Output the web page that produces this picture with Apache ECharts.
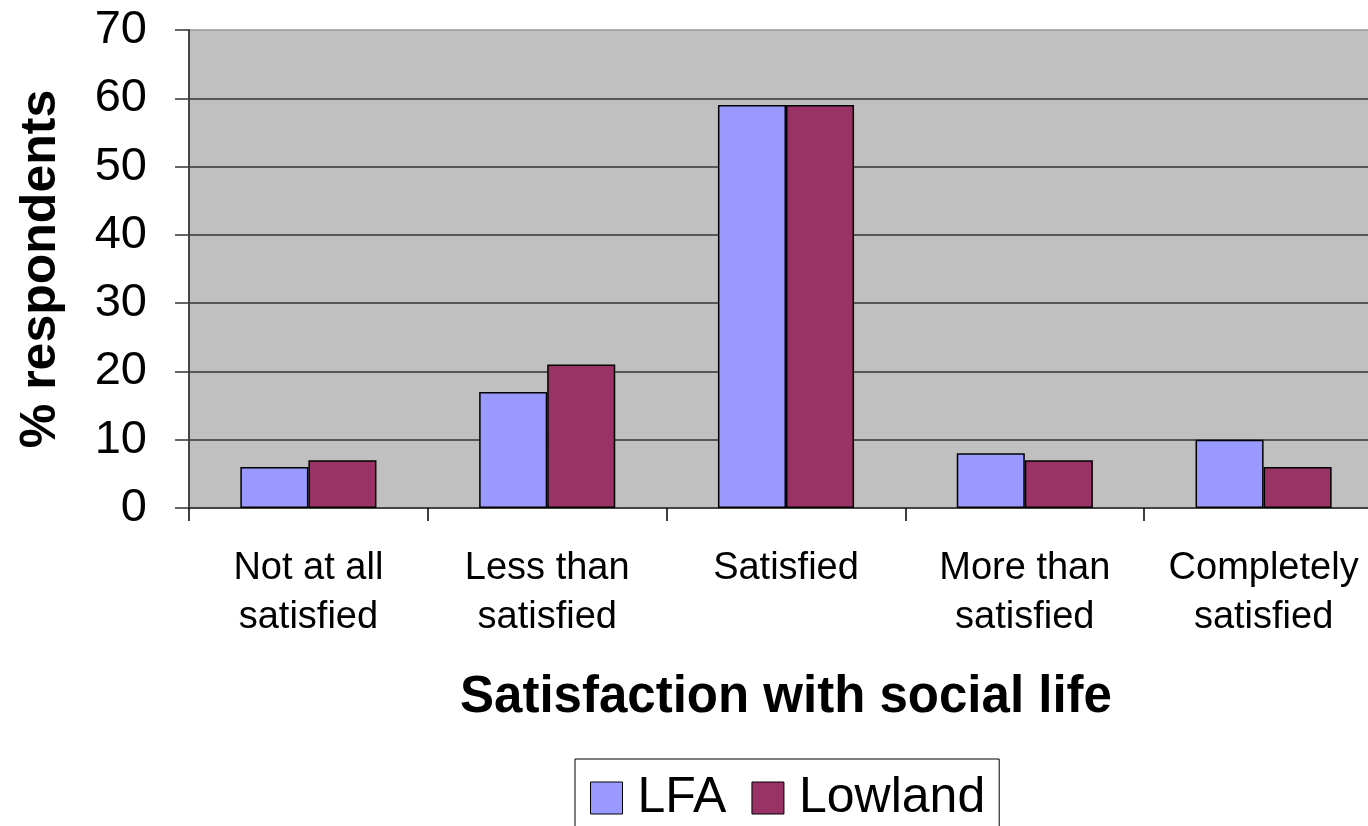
<!DOCTYPE html>
<html>
<head>
<meta charset="utf-8">
<script src="https://cdn.jsdelivr.net/npm/echarts@6/dist/echarts.min.js"></script>
<style>
html,body{margin:0;padding:0;background:#fff;overflow:hidden;width:1368px;height:826px;}
#chart{width:1400px;height:826px;}
</style>
</head>
<body>
<div id="chart"></div>
<script>
const categories = ['Not at all\nsatisfied', 'Less than\nsatisfied', 'Satisfied', 'More than\nsatisfied', 'Completely\nsatisfied'];
const lfaValues = [6, 17, 59, 8, 10];
const lowlandValues = [7, 21, 59, 7, 6];
const yTicks = { min: 0, max: 70, interval: 10 };
const seriesNames = ['LFA', 'Lowland'];

const FONT = '"Liberation Sans", Arial, sans-serif';
const chart = echarts.init(document.getElementById('chart'), null, { renderer: 'canvas' });
chart.setOption({
  animation: false,
  backgroundColor: '#ffffff',
  textStyle: { fontFamily: FONT },
  grid: {
    show: true,
    left: 189, top: 30, bottom: 318, width: 1194,
    backgroundColor: '#c0c0c0',
    borderWidth: 0,
    containLabel: false
  },
  legend: {
    data: seriesNames,
    left: 575, top: 759,
    orient: 'horizontal',
    padding: [14, 14, 14, 15],
    borderColor: '#000',
    borderWidth: 1,
    itemWidth: 32, itemHeight: 32,
    itemGap: 25,
    icon: 'rect',
    itemStyle: { borderColor: '#000', borderWidth: 1 },
    textStyle: { fontFamily: FONT, fontSize: 50, color: '#000', lineHeight: 48, padding: [0, 0, 0, 10] }
  },
  xAxis: {
    type: 'category',
    data: categories,
    boundaryGap: true,
    name: 'Satisfaction with social life',
    nameLocation: 'middle',
    nameGap: 164,
    nameTextStyle: { fontFamily: FONT, fontSize: 51, fontWeight: 'bold', color: '#000' },
    axisLine: { show: true, lineStyle: { color: '#444', width: 2 } },
    axisTick: { show: true, length: 13, alignWithLabel: false, lineStyle: { color: '#000', width: 1.5 } },
    axisLabel: { interval: 0, fontFamily: FONT, fontSize: 38, lineHeight: 49, color: '#000', margin: 36 },
    splitLine: { show: false }
  },
  yAxis: {
    type: 'value',
    min: yTicks.min, max: yTicks.max, interval: yTicks.interval,
    name: '% respondents',
    nameLocation: 'middle',
    nameRotate: 90,
    nameGap: 123,
    nameTextStyle: { fontFamily: FONT, fontSize: 50, fontWeight: 'bold', color: '#000' },
    axisLine: { show: true, lineStyle: { color: '#444', width: 2 } },
    axisTick: { show: true, length: 14, lineStyle: { color: '#333', width: 1.5 } },
    axisLabel: { fontFamily: FONT, fontSize: 47, color: '#000', margin: 42 },
    splitLine: { show: true, lineStyle: { color: ['#444', '#333', '#333', '#333', '#333', '#333', '#333', '#999'], width: 1.5 } }
  },
  series: [
    {
      name: seriesNames[0], type: 'bar', data: lfaValues,
      barGap: '0%', barCategoryGap: '43%',
      itemStyle: { color: '#9999ff', borderColor: '#000', borderWidth: 1.5 }
    },
    {
      name: seriesNames[1], type: 'bar', data: lowlandValues,
      barGap: '0%', barCategoryGap: '43%',
      itemStyle: { color: '#993366', borderColor: '#000', borderWidth: 1.5 }
    }
  ]
});
</script>
</body>
</html>
